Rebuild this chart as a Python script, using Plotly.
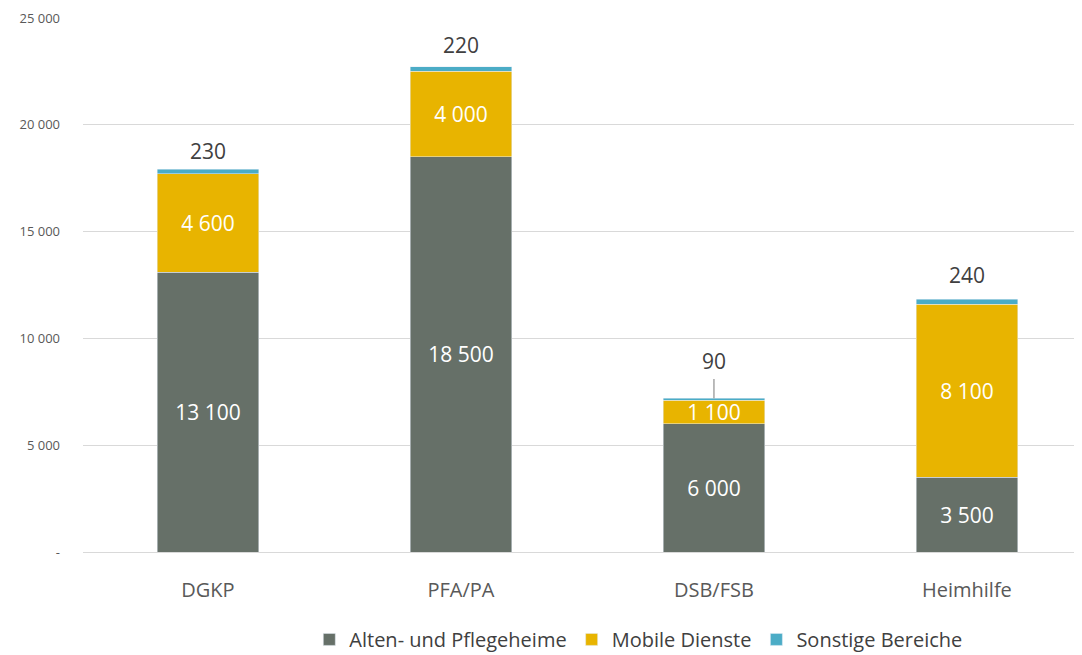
import plotly.graph_objects as go

categories = ["DGKP", "PFA/PA", "DSB/FSB", "Heimhilfe"]
alten = [13100, 18500, 6000, 3500]
mobile = [4600, 4000, 1100, 8100]
sonstige = [230, 220, 90, 240]

y_ticks = [0, 5000, 10000, 15000, 20000, 25000]
y_ticktext = ["-", "5 000", "10 000", "15 000", "20 000", "25 000"]

FONT = "Open Sans"
colors = {"alten": "#667068", "mobile": "#E8B400", "sonstige": "#4BACC6"}


def fmt(v):
    return f"{v:,}".replace(",", " ")


x = list(range(len(categories)))
fig = go.Figure()

fig.add_trace(go.Bar(
    x=x, y=alten, name="Alten- und Pflegeheime", marker_color=colors["alten"],
    text=[fmt(v) for v in alten], textposition="inside", insidetextanchor="middle",
    textfont=dict(color="white", size=21, family=FONT), width=0.4,
    constraintext="none",
))
fig.add_trace(go.Bar(
    x=x, y=mobile, name="Mobile Dienste", marker_color=colors["mobile"],
    text=[fmt(v) for v in mobile], textposition="inside", insidetextanchor="middle",
    textfont=dict(color="white", size=21, family=FONT), width=0.4,
    constraintext="none",
))
fig.add_trace(go.Bar(
    x=x, y=sonstige, name="Sonstige Bereiche", marker_color=colors["sonstige"],
    width=0.4,
))

# labels for the thin top segment
shifts = [18, 22, 37, 24]
for i, v in enumerate(sonstige):
    top = alten[i] + mobile[i] + sonstige[i]
    if i == 2:
        fig.add_annotation(
            x=i, y=top, ax=0, ay=-37, axref="pixel", ayref="pixel",
            text=fmt(v), showarrow=True, arrowhead=0, arrowwidth=1.5,
            arrowcolor="#A6A6A6", standoff=0, startstandoff=2,
            font=dict(size=21, color="#404040", family=FONT),
        )
    else:
        fig.add_annotation(
            x=i, y=top, yshift=shifts[i], text=fmt(v), showarrow=False,
            font=dict(size=21, color="#404040", family=FONT),
        )

# page body has an 8px margin, so the figure is shifted by 8px
fig.update_layout(
    barmode="stack",
    width=1082, height=655,
    margin=dict(l=75, r=10, t=10, b=111, autoexpand=False),
    plot_bgcolor="white", paper_bgcolor="white",
    font=dict(family=FONT, color="#404040"),
    uniformtext=dict(minsize=21, mode="show"),
    legend=dict(
        orientation="h", xref="container", yref="container",
        x=0.583, xanchor="center", y=0.036, yanchor="middle",
        font=dict(size=20, color="#404040", family=FONT),
        traceorder="normal", tracegroupgap=0, itemwidth=30,
    ),
)
fig.update_xaxes(
    tickmode="array", tickvals=x, ticktext=categories,
    range=[-0.494, 3.447], showgrid=False, showline=False,
    tickfont=dict(size=20, color="#595959", family=FONT),
    ticks="outside", ticklen=20, tickcolor="rgba(0,0,0,0)",
    automargin=False,
)
fig.update_yaxes(
    range=[0, 25000], tickvals=y_ticks, ticktext=y_ticktext,
    showgrid=True, gridcolor="#D9D9D9", gridwidth=1,
    zeroline=True, zerolinecolor="#D9D9D9", zerolinewidth=1,
    tickfont=dict(size=13, color="#595959", family=FONT),
    ticklabelstandoff=22, automargin=False,
)

fig.write_html("out.html")
